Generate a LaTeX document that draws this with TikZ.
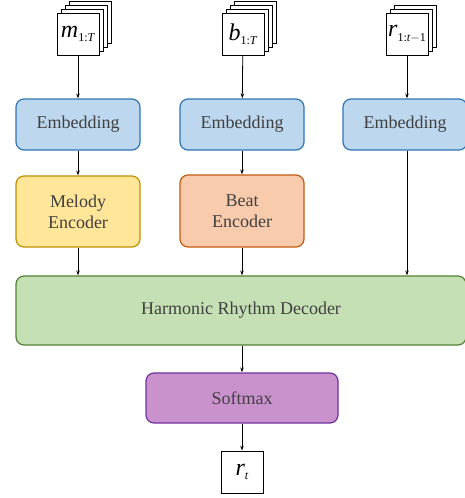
\documentclass[tikz,border=0pt]{standalone}
\usepackage{fontspec}
\setmainfont{Liberation Serif}
\usetikzlibrary{arrows.meta,shadows}
\definecolor{txt}{HTML}{404040}
\definecolor{embF}{HTML}{BDD7EE}\definecolor{embD}{HTML}{2E75B6}
\definecolor{melF}{HTML}{FFE699}\definecolor{melD}{HTML}{BF9000}
\definecolor{beaF}{HTML}{F8CBAD}\definecolor{beaD}{HTML}{C55A11}
\definecolor{decF}{HTML}{C5E0B4}\definecolor{decD}{HTML}{548235}
\definecolor{sofF}{HTML}{C992CC}\definecolor{sofD}{HTML}{7030A0}
\tikzset{
  blk/.style={draw, line width=1.2pt, rounded corners=8pt, text=txt, align=center,
    font=\fontsize{18}{21}\selectfont, inner sep=0pt},
  emb/.style={blk, fill=embF, draw=embD, minimum width=124pt, minimum height=51pt},
  inbox/.style={draw, fill=white, line width=0.8pt, minimum width=42pt, minimum height=42pt, inner sep=0pt,
    font=\fontsize{24}{26}\selectfont},
  four/.style={inbox,
    copy shadow={shadow xshift=12pt,shadow yshift=12pt},
    copy shadow={shadow xshift=8pt,shadow yshift=8pt},
    copy shadow={shadow xshift=4pt,shadow yshift=4pt}},
  three/.style={inbox,
    copy shadow={shadow xshift=8pt,shadow yshift=8pt},
    copy shadow={shadow xshift=4pt,shadow yshift=4pt}},
  arr/.style={-{Stealth[length=5pt,width=3.5pt]}, line width=0.8pt}
}
\newcommand{\sub}[1]{\raisebox{-0.4ex}{\fontsize{12}{13}\selectfont #1}}
\begin{document}
\begin{tikzpicture}[x=1pt,y=-1pt]
\useasboundingbox (0,0) rectangle (464,498);
\node[four] (m) at (78,34) {\textit{m}\sub{1:\textit{T}}};
\node[four] (b) at (243,34) {\textit{b}\sub{1:\textit{T}}};
\node[three] (r) at (407,34) {\textit{r}\sub{1:\textit{t}$-$1}};
\node[emb] (e1) at (78,124.5) {Embedding};
\node[emb] (e2) at (242,124.5) {Embedding};
\node[emb] (e3) at (405,124.5) {Embedding};
\node[blk, fill=melF, draw=melD, minimum width=124pt, minimum height=71pt] (me) at (78,211.5) {Melody\\Encoder};
\node[blk, fill=beaF, draw=beaD, minimum width=124pt, minimum height=72pt] (be) at (242,211) {Beat\\Encoder};
\node[blk, fill=decF, draw=decD, minimum width=450pt, minimum height=69pt] (de) at (241,310.5) {Harmonic Rhythm Decoder};
\node[blk, fill=sofF, draw=sofD, minimum width=192pt, minimum height=50pt] (so) at (242,398) {Softmax};
\node[inbox] (rt) at (242,472) {\textit{r}\sub{\textit{t}}};
\draw[arr] (m) -- (e1);
\draw[arr] (b) -- (e2);
\draw[arr] (r.south) -- (r.south |- e3.north);
\draw[arr] (e1) -- (me);
\draw[arr] (e2) -- (be);
\draw[arr] (me) -- (me |- de.north);
\draw[arr] (be) -- (be |- de.north);
\draw[arr] (r.south |- e3.south) -- (r.south |- de.north);
\draw[arr] (de.south -| so) -- (so);
\draw[arr] (so) -- (rt);
\end{tikzpicture}
\end{document}
